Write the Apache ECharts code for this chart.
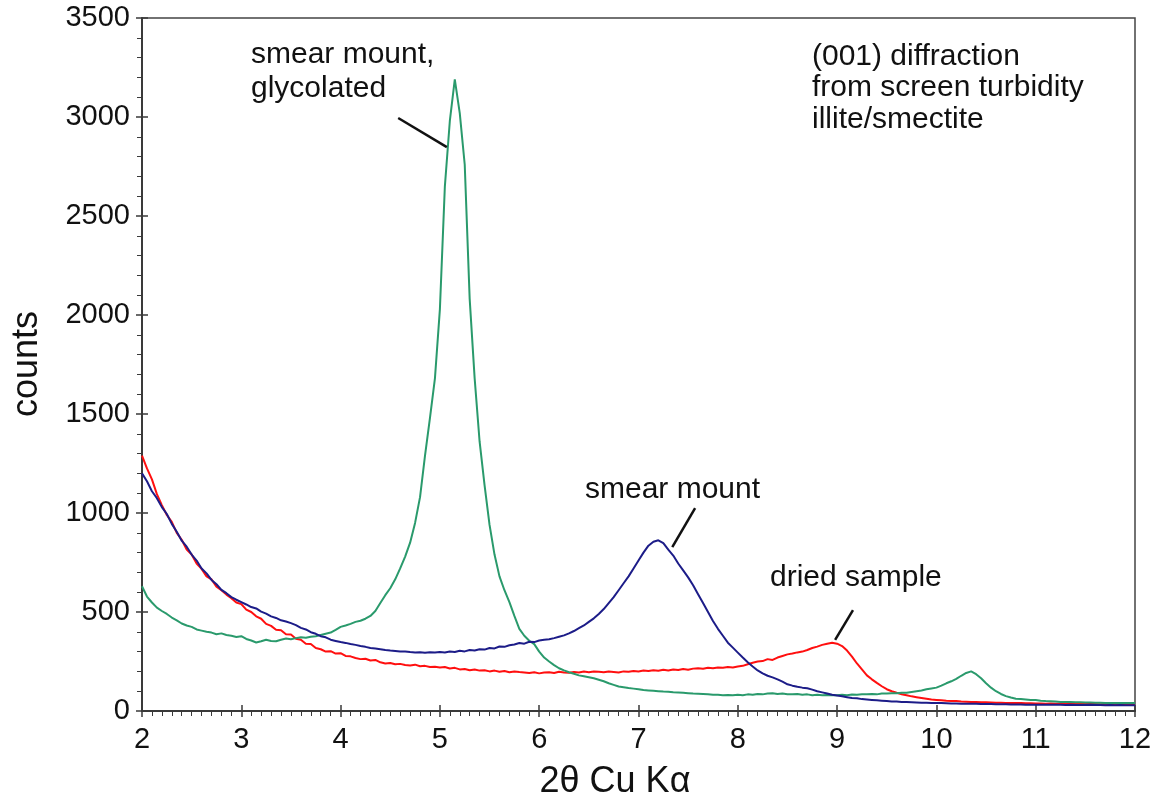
<!DOCTYPE html>
<html><head><meta charset="utf-8">
<script src="https://cdn.jsdelivr.net/npm/echarts@6/dist/echarts.min.js"></script>
<style>html,body{margin:0;padding:0;background:#fff}#c{width:1164px;height:807px}</style>
</head><body><div id="c"></div>
<script>
// sampling grid of 2θ (degrees): 2.00, 2.05, ... 12.00
const X_START = 2, X_STEP = 0.05;

// dried sample (red)
const driedSample = [
1290,1225,1170,1095,1040,990,955,900,865,815,
790,745,718,680,665,628,610,588,570,548,
540,512,500,478,466,440,430,410,408,388,
386,365,360,340,338,318,312,300,302,290,
292,278,276,268,262,264,255,258,246,240,
242,236,238,232,230,234,226,228,222,224,
220,222,215,218,210,212,206,210,204,206,
200,204,198,202,196,200,197,195,192,196,
190,194,196,192,198,195,193,197,194,199,
196,200,198,196,200,197,194,200,198,202,
200,204,202,206,203,208,205,210,207,212,
208,214,216,213,218,216,220,218,222,220,
225,228,236,244,250,252,262,258,270,278,
286,290,296,300,308,318,325,334,340,345,
340,328,305,275,240,210,180,160,142,125,
110,100,92,85,80,74,70,66,62,58,
56,54,52,51,50,48,47,46,45,44,
44,43,42,42,41,40,40,40,39,39,
38,38,37,38,37,36,37,36,36,35,
36,35,35,34,35,34,34,33,34,33,
33];

// smear mount (navy)
const smearMount = [
1200,1160,1110,1075,1030,995,945,905,860,830,
790,760,720,695,662,640,612,595,575,562,
550,538,525,518,502,492,478,470,458,452,
444,434,420,412,398,390,378,372,360,354,
348,344,338,334,328,324,318,316,312,308,
305,303,300,301,298,296,297,294,297,295,
298,296,300,298,304,301,308,306,312,310,
318,316,326,324,332,336,343,340,350,348,
356,360,362,368,375,382,392,404,418,432,
450,468,490,515,545,575,610,645,680,720,
760,800,835,855,862,848,815,785,745,710,
675,635,590,545,500,455,415,380,345,320,
295,270,246,225,205,190,178,170,160,148,
135,128,122,118,115,108,100,94,88,82,
78,74,70,66,64,60,58,56,54,52,
50,48,48,46,45,44,43,42,42,41,
40,40,39,38,38,37,37,36,36,35,
35,35,34,34,34,33,33,33,32,32,
32,32,31,32,31,31,30,31,30,30,
30,31,30,30,29,30,29,30,29,29,
29];

// smear mount, glycolated (green)
const glycolated = [
630,578,548,522,505,490,472,458,442,432,
425,412,406,400,396,388,392,384,380,374,
378,364,356,346,352,360,354,352,360,366,
362,368,372,370,375,378,384,390,396,410,
425,432,440,450,456,466,480,505,545,585,
620,665,720,780,850,950,1080,1290,1480,1680,
2030,2650,2980,3190,3020,2760,2080,1680,1360,1140,
940,790,680,610,550,480,415,380,355,338,
300,270,250,232,216,205,196,188,180,175,
170,165,158,150,140,132,124,120,116,113,
110,106,104,102,100,98,97,95,94,92,
90,88,87,86,85,82,82,80,81,80,
82,80,84,82,86,84,88,90,86,88,
85,84,86,82,84,80,82,80,81,80,
80,82,80,83,82,84,85,86,84,88,
88,90,90,92,92,96,100,104,110,114,
118,128,140,150,162,178,192,200,186,165,
140,118,100,86,75,68,62,60,58,56,
55,52,50,49,48,46,46,45,44,44,
43,43,42,42,41,41,40,41,40,40,
40];

// leader lines of the annotations, in data units [2θ, counts]
const leaderGlycolated = [[4.58, 2995], [5.07, 2848]];
const leaderSmear = [[7.57, 1025], [7.34, 828]];
const leaderDried = [[9.16, 510], [8.98, 359]];

function pairs(vals) {
  return vals.map((v, i) => [+(X_START + i * X_STEP).toFixed(2), v]);
}

const FONT = '"Liberation Sans", Arial, Helvetica, sans-serif';
const AX = '#3a3a3a';

const chart = echarts.init(document.getElementById('c'), null, {renderer: 'canvas'});

function leader(seg) {
  return [{coord: seg[0]}, {coord: seg[1]}];
}

function txt(text, x, y, size, extra) {
  return Object.assign({
    type: 'text', x: x, y: y, silent: true,
    style: {text: text, fill: '#111', fontSize: size, fontFamily: FONT,
      align: 'left', verticalAlign: 'middle', textAlign: 'left', textVerticalAlign: 'middle'}
  }, extra || {});
}

const plain = v => String(v);

const option = {
  animation: false,
  backgroundColor: '#fff',
  grid: {left: 142, right: 29, top: 18, bottom: 96, show: true,
    borderColor: '#444', borderWidth: 1.5, backgroundColor: 'transparent'},
  xAxis: [{
    type: 'value', min: 2, max: 12, interval: 1, position: 'bottom',
    axisLine: {show: true, onZero: false, lineStyle: {color: AX, width: 2}},
    axisTick: {show: true, inside: false, length: 6, lineStyle: {color: AX, width: 1.5}},
    minorTick: {show: true, splitNumber: 10, length: 5, lineStyle: {color: AX, width: 1}},
    axisLabel: {color: '#111', fontSize: 29, fontFamily: FONT, margin: 14, formatter: plain},
    splitLine: {show: false}, minorSplitLine: {show: false}
  }, {
    type: 'value', min: 2, max: 12, interval: 1, position: 'bottom', offset: 0,
    axisLine: {show: false},
    axisTick: {show: true, inside: true, length: 6, lineStyle: {color: AX, width: 1.5}},
    axisLabel: {show: false}, splitLine: {show: false}
  }],
  yAxis: [{
    type: 'value', min: 0, max: 3500, interval: 500, position: 'left',
    axisLine: {show: true, onZero: false, lineStyle: {color: AX, width: 2}},
    axisTick: {show: true, inside: false, length: 6, lineStyle: {color: AX, width: 1.5}},
    minorTick: {show: true, splitNumber: 5, length: 5, lineStyle: {color: AX, width: 1}},
    axisLabel: {color: '#111', fontSize: 29, fontFamily: FONT, margin: 12, formatter: plain},
    splitLine: {show: false}, minorSplitLine: {show: false}
  }, {
    type: 'value', min: 0, max: 3500, interval: 500, position: 'left', offset: 0,
    axisLine: {show: false},
    axisTick: {show: true, inside: true, length: 6, lineStyle: {color: AX, width: 1.5}},
    axisLabel: {show: false}, splitLine: {show: false}
  }],
  series: [{
    name: 'dried sample', type: 'line', data: pairs(driedSample),
    showSymbol: false, symbol: 'none', smooth: false,
    lineStyle: {color: '#ff0f0f', width: 2}, itemStyle: {color: '#ff0f0f'},
    markLine: {silent: true, symbol: ['none', 'none'], label: {show: false},
      lineStyle: {color: '#111', width: 2.5, type: 'solid'},
      data: [leader(leaderDried)]}
  }, {
    name: 'smear mount, glycolated', type: 'line', data: pairs(glycolated),
    showSymbol: false, symbol: 'none', smooth: false,
    lineStyle: {color: '#2a9a6c', width: 2}, itemStyle: {color: '#2a9a6c'},
    markLine: {silent: true, symbol: ['none', 'none'], label: {show: false},
      lineStyle: {color: '#111', width: 2.5, type: 'solid'},
      data: [leader(leaderGlycolated)]}
  }, {
    name: 'smear mount', type: 'line', data: pairs(smearMount),
    showSymbol: false, symbol: 'none', smooth: false,
    lineStyle: {color: '#1c1c88', width: 2}, itemStyle: {color: '#1c1c88'},
    markLine: {silent: true, symbol: ['none', 'none'], label: {show: false},
      lineStyle: {color: '#111', width: 2.5, type: 'solid'},
      data: [leader(leaderSmear)]}
  }],
  graphic: [
    txt('smear mount,', 251, 55, 30),
    txt('glycolated', 251, 89, 30),
    txt('(001) diffraction', 812, 57, 30),
    txt('from screen turbidity', 812, 88, 30),
    txt('illite/smectite', 812, 120, 30),
    txt('smear mount', 585, 490, 30),
    txt('dried sample', 770, 578, 30),
    txt('2\u03b8 Cu K\u03b1', 615, 782, 36, {style: {text: '2\u03b8 Cu K\u03b1', fill: '#111', fontSize: 36,
      fontFamily: FONT, align: 'center', verticalAlign: 'middle', textAlign: 'center', textVerticalAlign: 'middle'}}),
    txt('counts', 27, 364, 36, {rotation: Math.PI / 2, style: {text: 'counts', fill: '#111', fontSize: 36,
      fontFamily: FONT, align: 'center', verticalAlign: 'middle', textAlign: 'center', textVerticalAlign: 'middle'}})
  ]
};
chart.setOption(option);
</script>
</body></html>
